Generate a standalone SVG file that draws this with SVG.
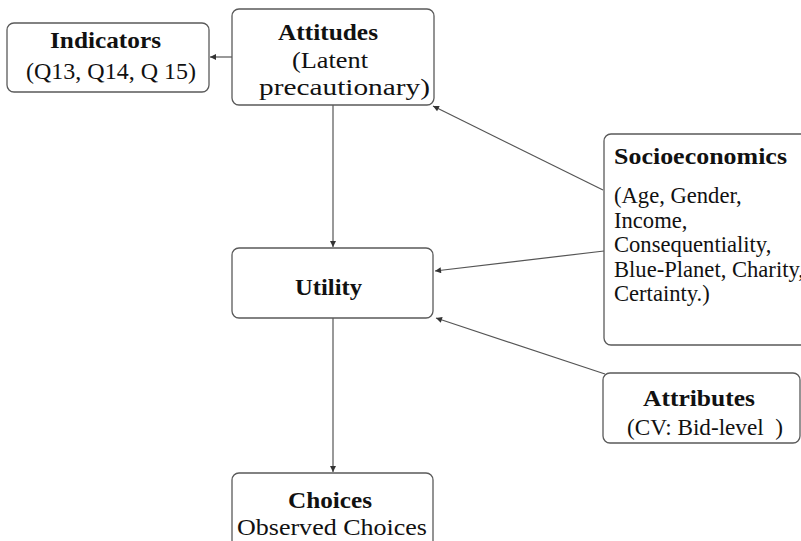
<svg xmlns="http://www.w3.org/2000/svg" width="801" height="541" viewBox="0 0 801 541">
<style>
.box{fill:#fff;stroke:#5a5a5a;stroke-width:1.3}
.t{font-family:"Liberation Serif","Times New Roman",serif;font-size:22.6px;fill:#111}
.b{font-weight:bold}
.edge{stroke:#555;stroke-width:1.2;fill:none;marker-end:url(#ah)}
</style>
<defs>
<marker id="ah" viewBox="0 0 10 10" refX="10" refY="5" markerWidth="7" markerHeight="6" markerUnits="userSpaceOnUse" orient="auto">
<path d="M0,0 L10,5 L0,10 Z" fill="#333"/>
</marker>
</defs>
<rect width="801" height="541" fill="#fff"/>
<g id="connectors">
<line class="edge" x1="232" y1="57" x2="210" y2="57"/>
<line class="edge" x1="333" y1="105" x2="333" y2="247"/>
<line class="edge" x1="603" y1="190" x2="433" y2="106"/>
<line class="edge" x1="604" y1="251" x2="435" y2="271"/>
<line class="edge" x1="605" y1="374" x2="436" y2="318"/>
<line class="edge" x1="333" y1="318" x2="333" y2="472"/>
</g>
<g id="indicators">
<rect class="box" x="7" y="23" width="202" height="69" rx="7"/>
<text class="t b" x="50" y="48" textLength="111" lengthAdjust="spacingAndGlyphs">Indicators</text>
<text class="t" x="26" y="79" textLength="170" lengthAdjust="spacingAndGlyphs">(Q13, Q14, Q 15)</text>
</g>
<g id="attitudes">
<rect class="box" x="232" y="9" width="202" height="96" rx="7"/>
<text class="t b" x="278" y="40" textLength="100" lengthAdjust="spacingAndGlyphs">Attitudes</text>
<text class="t" x="292" y="68" textLength="76" lengthAdjust="spacingAndGlyphs">(Latent</text>
<text class="t" x="259" y="95" textLength="171" lengthAdjust="spacingAndGlyphs">precautionary)</text>
</g>
<g id="utility">
<rect class="box" x="232" y="248" width="201" height="70" rx="7"/>
<text class="t b" x="295" y="295" textLength="67" lengthAdjust="spacingAndGlyphs">Utility</text>
</g>
<g id="socioeconomics">
<rect class="box" x="604" y="134" width="205" height="211" rx="7"/>
<text class="t b" x="614" y="164" textLength="173" lengthAdjust="spacingAndGlyphs">Socioeconomics</text>
<text class="t" x="614" y="203">(Age, Gender,</text>
<text class="t" x="614" y="228">Income,</text>
<text class="t" x="614" y="252">Consequentiality,</text>
<text class="t" x="614" y="277">Blue-Planet, Charity,</text>
<text class="t" x="614" y="301">Certainty.)</text>
</g>
<g id="attributes">
<rect class="box" x="603" y="373" width="197" height="70" rx="7"/>
<text class="t b" x="643" y="406" textLength="112" lengthAdjust="spacingAndGlyphs">Attributes</text>
<text class="t" x="627" y="435" textLength="156" lengthAdjust="spacingAndGlyphs" xml:space="preserve">(CV: Bid-level  )</text>
</g>
<g id="choices">
<rect class="box" x="232" y="473" width="201" height="80" rx="7"/>
<text class="t b" x="288" y="508" textLength="84" lengthAdjust="spacingAndGlyphs">Choices</text>
<text class="t" x="237" y="535" textLength="190" lengthAdjust="spacingAndGlyphs">Observed Choices</text>
</g>
</svg>
